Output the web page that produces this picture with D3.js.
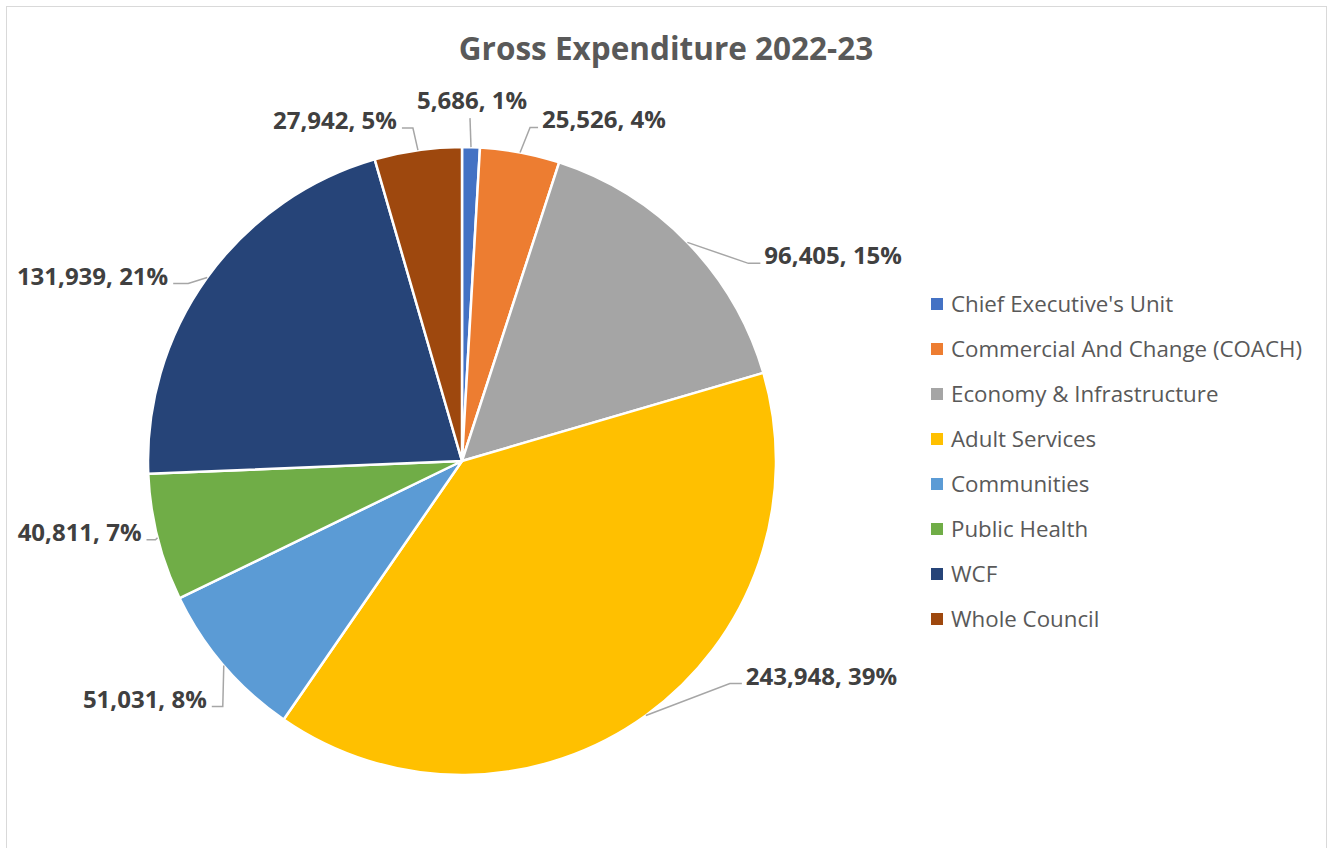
<!DOCTYPE html>
<html>
<head>
<meta charset="utf-8">
<script src="https://cdn.jsdelivr.net/npm/d3@7"></script>
<style>
  html, body { margin: 0; padding: 0; background: #fff; }
  svg { display: block; }
</style>
</head>
<body>
<svg id="chart" width="1333" height="848"></svg>
<script>
// ---- data ----
const categories = [
  "Chief Executive's Unit",
  "Commercial And Change (COACH)",
  "Economy & Infrastructure",
  "Adult Services",
  "Communities",
  "Public Health",
  "WCF",
  "Whole Council"
];
const values = [5686, 25526, 96405, 243948, 51031, 40811, 131939, 27942];
const percentLabels = ["1%", "4%", "15%", "39%", "8%", "7%", "21%", "5%"];
const colors = ["#4472C4", "#ED7D31", "#A5A5A5", "#FFC000", "#5B9BD5", "#70AD47", "#264478", "#9E480E"];
const title = "Gross Expenditure 2022-23";

// label layout: leader elbow offset from slice outer mid-point, horizontal tail length
const labelLayout = [
  { side: "top",   dx: -1,  dy: -29, h: 0 },
  { side: "right", dx: 10,  dy: -25, h: 8 },
  { side: "right", dx: 61,  dy: 21,  h: 12 },
  { side: "right", dx: 84,  dy: -32, h: 12 },
  { side: "left",  dx: -1,  dy: 41,  h: 11 },
  { side: "left",  dx: -2,  dy: 2,   h: 9 },
  { side: "left",  dx: -19, dy: 6,   h: 15 },
  { side: "left",  dx: -5,  dy: -22, h: 11 }
];

const svg = d3.select("#chart");

// frame
svg.append("rect")
  .attr("x", 6.5).attr("y", 6.5)
  .attr("width", 1320).attr("height", 900)
  .attr("fill", "#fff").attr("stroke", "#D9D9D9").attr("stroke-width", 1);

// title
svg.append("text")
  .attr("x", 666).attr("y", 60)
  .attr("text-anchor", "middle")
  .attr("font-family", "'Open Sans', sans-serif")
  .attr("font-weight", "bold")
  .attr("font-size", 31.5)
  .attr("fill", "#595959")
  .text(title);

const cx = 462, cy = 461, R = 314;
const g = svg.append("g").attr("transform", `translate(${cx},${cy})`);

const pie = d3.pie().sort(null).value(d => d)(values);
const arc = d3.arc().innerRadius(0).outerRadius(R);

g.selectAll("path.slice")
  .data(pie)
  .join("path")
  .attr("class", "slice")
  .attr("d", arc)
  .attr("fill", (d, i) => colors[i])
  .attr("stroke", "#fff")
  .attr("stroke-width", 2.5)
  .attr("stroke-linejoin", "round");

const fmt = d3.format(",");
pie.forEach((d, i) => {
  const a = (d.startAngle + d.endAngle) / 2;
  const px = R * Math.sin(a), py = -R * Math.cos(a);
  const L = labelLayout[i];
  const ex = px + L.dx, ey = py + L.dy;
  let pts, tx, ty, anchor;
  if (L.side === "top") {
    pts = [[px, py], [ex, ey]];
    tx = ex + 2; ty = ey - 9; anchor = "middle";
  } else if (L.side === "right") {
    pts = [[px, py], [ex, ey], [ex + L.h, ey]];
    tx = ex + L.h + 4; ty = ey + 1; anchor = "start";
  } else {
    pts = [[px, py], [ex, ey], [ex - L.h, ey]];
    tx = ex - L.h - 5; ty = ey + 1; anchor = "end";
  }
  g.append("path")
    .attr("d", d3.line()(pts))
    .attr("fill", "none")
    .attr("stroke", "#A6A6A6")
    .attr("stroke-width", 1.5);
  g.append("text")
    .attr("x", tx).attr("y", ty)
    .attr("text-anchor", anchor)
    .attr("font-family", "'Open Sans', sans-serif")
    .attr("font-weight", "bold")
    .attr("font-size", 24)
    .attr("fill", "#404040")
    .text(`${fmt(values[i])}, ${percentLabels[i]}`);
});

// legend
const legend = svg.append("g").attr("transform", "translate(931,304)");
const rows = legend.selectAll("g").data(categories).join("g")
  .attr("transform", (d, i) => `translate(0,${i * 45})`);
rows.append("rect")
  .attr("x", 0).attr("y", -6).attr("width", 12).attr("height", 12)
  .attr("fill", (d, i) => colors[i]);
rows.append("text")
  .attr("x", 20).attr("y", 0)
  .attr("dy", "0.35em")
  .attr("font-family", "'Open Sans', sans-serif")
  .attr("font-size", 22.3)
  .attr("fill", "#595959")
  .text(d => d);
</script>
</body>
</html>
